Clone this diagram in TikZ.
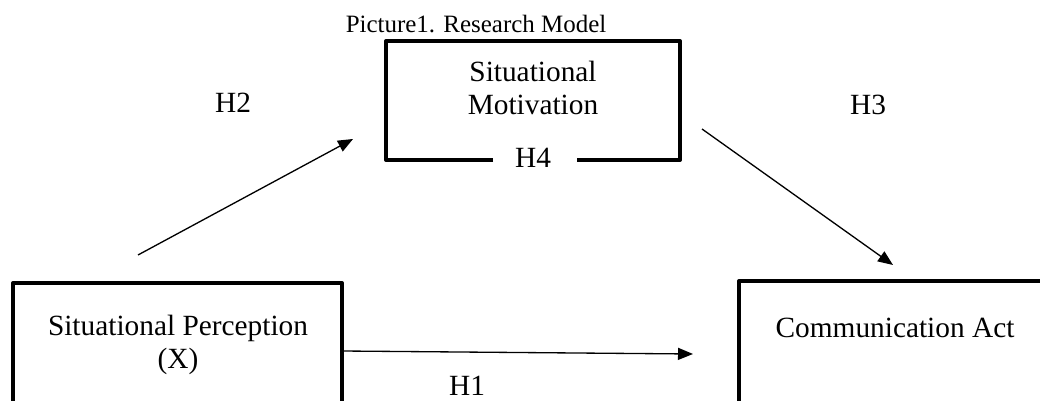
\documentclass[tikz,border=0pt]{standalone}
\usepackage{fontspec}
\setmainfont{Liberation Serif}
\usetikzlibrary{arrows.meta}
\tikzset{
  boxline/.style={line width=2.3pt,line join=round},
  path/.style={line width=0.75pt,-{Triangle[length=0.3cm,width=0.24cm]}},
  lbl/.style={font=\fontsize{16.7}{18.5}\selectfont,align=center,inner sep=0pt}
}
\begin{document}
\begin{tikzpicture}[x=0.02cm,y=-0.02cm]
\useasboundingbox (0,0) rectangle (1040,401);
% boxes (cut off at the bottom)
\draw[boxline] (13,405) -- (13,283) -- (342,283) -- (342,405);
\draw[boxline] (739,405) -- (739,281) -- (1045,281);
\draw[boxline] (493,160) -- (386,160) -- (386,41) -- (680,41) -- (680,160) -- (577,160);
\node[lbl] (title) at (476,24) {\fontsize{14.2}{16}\selectfont Picture1. Research Model};
\node[lbl] (perc) at (178,345) {Situational Perception\\(X)};
\node[lbl] (motiv) at (533,88) {Situational\\Motivation};
\node[lbl] (act) at (895,328) {Communication Act};
\node[lbl] (h1) at (467,386) {H1};
\node[lbl] (h2) at (233,103) {H2};
\node[lbl] (h3) at (868,105) {H3};
\node[lbl] (h4) at (533,158) {H4};
% arrow ends
\coordinate (p1) at (342,351);
\coordinate (a1) at (693,354);
\coordinate (p2) at (138,255);
\coordinate (m2) at (353,139);
\coordinate (m3) at (702,129);
\coordinate (a3) at (893,265);
\draw[path] (p1) -- (a1);
\draw[path] (p2) -- (m2);
\draw[path] (m3) -- (a3);
\end{tikzpicture}
\end{document}
